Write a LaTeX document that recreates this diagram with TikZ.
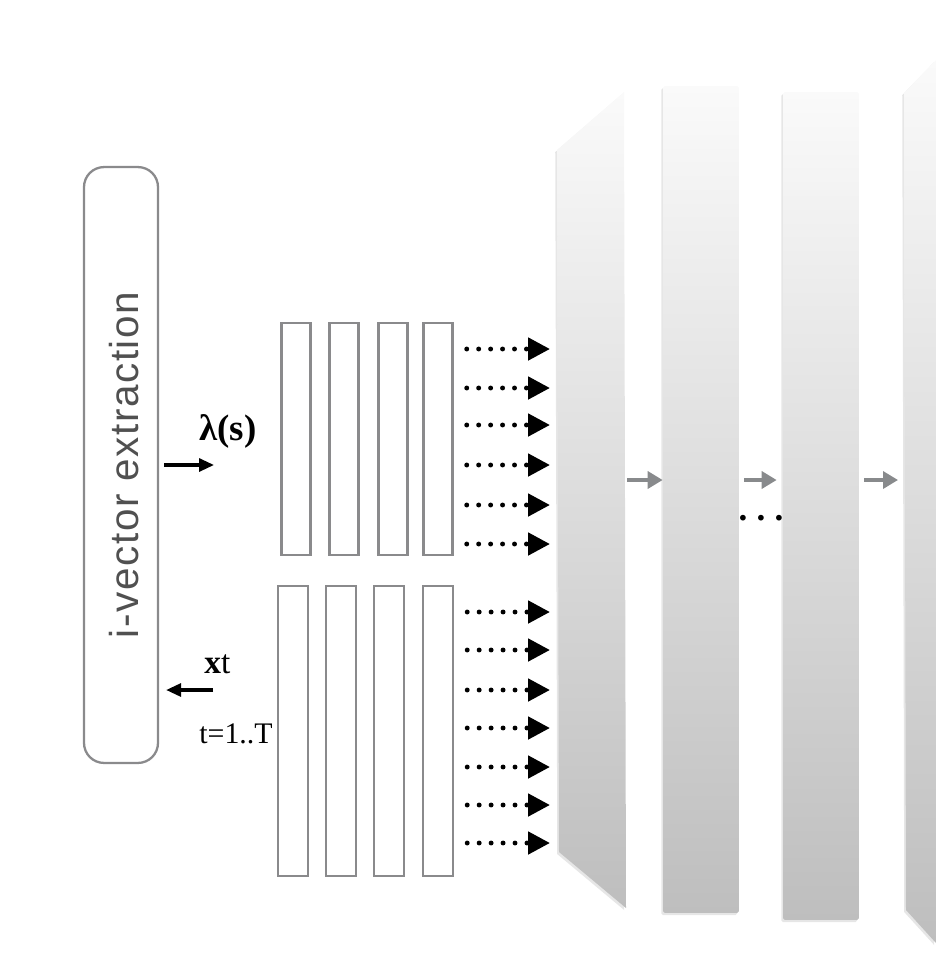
\documentclass[tikz,border=0pt]{standalone}
\usepackage{fontspec}
\setmainfont{Liberation Serif}
\newfontfamily\labelsans[LetterSpace=4]{Liberation Sans}
\usetikzlibrary{arrows.meta,positioning,calc,shadows}
\definecolor{boxgrey}{RGB}{138,138,140}
\definecolor{layertop}{RGB}{250,250,250}
\definecolor{layerbottom}{RGB}{190,190,190}
\definecolor{flowgrey}{RGB}{136,138,140}
\definecolor{textgrey}{RGB}{80,80,80}

\begin{document}
\begin{tikzpicture}[
    x=0.02cm, y=-0.02cm,
    framebar/.style={draw=boxgrey, line width=1.4pt, inner sep=0pt, minimum width=0.58cm},
    ivec/.style={draw=boxgrey, line width=1.3pt, rounded corners=0.4cm, inner sep=0pt,
        minimum width=1.48cm, minimum height=11.92cm},
    layer/.style={top color=layertop, bottom color=layerbottom, draw=none,
        drop shadow={shadow xshift=-1pt, shadow yshift=-1.2pt, opacity=0.2}},
    layerrect/.style={layer, inner sep=0pt, minimum width=1.52cm, rounded corners=1pt},
    dotarrow/.style={line width=2.8pt, line cap=round, dash pattern=on 0pt off 6.8pt,
        -{Triangle[length=0.44cm, width=0.44cm]}},
    flow/.style={flowgrey, line width=2pt, -{Triangle[length=0.3cm, width=0.34cm]}},
    feed/.style={black, line width=1.8pt, -{Triangle[length=0.3cm, width=0.26cm]}},
    tag/.style={inner sep=0pt},
]
    \useasboundingbox (0,0) rectangle (936,978);
    % i-vector block
    \node[ivec] (ivec) at (121,465) {};
    \node[rotate=90, textgrey, font=\labelsans\fontsize{23}{27}\selectfont] (ivectext) at (124,465) {i-vector extraction};
    % input frames
    \foreach \x [count=\i] in {296,344,393,438} {
        \node[framebar, minimum height=4.64cm] (u\i) at (\x,439) {};
    }
    \foreach \x [count=\i] in {293,341,389,438} {
        \node[framebar, minimum height=5.8cm, minimum width=0.6cm] (d\i) at (\x,731) {};
    }
    % network layers
    \shade[layer] (557,150) -- (624,92) -- (626,908) -- (559,852) -- cycle;
    \coordinate (l1w) at (557,480);
    \coordinate (l1e) at (627,480);
    \node[layerrect, minimum height=16.54cm] (l2) at (701,499.5) {};
    \node[layerrect, minimum height=16.56cm] (l3) at (821,506) {};
    \shade[layer] (904,93) -- (936,60) -- (936,943) -- (906,910) -- cycle;
    \coordinate (l4) at (904,480);
    % frames into first layer
    \foreach \y in {349,388,425,465,505,544} {
        \draw[dotarrow, shorten <=0.26cm, shorten >=0.14cm] (u4.east |- 0,\y) -- (l1w |- 0,\y);
    }
    \foreach \y in {612,650,690,728,767,805,843} {
        \draw[dotarrow, shorten <=0.26cm, shorten >=0.14cm] (d4.east |- 0,\y) -- (l1w |- 0,\y);
    }
    % between layers
    \draw[flow] (l1e) -- (l2.west |- l1e);
    \draw[flow, shorten <=0.1cm, shorten >=0.12cm] (l2.east |- l1e) -- (l3.west |- l1e);
    \draw[flow, shorten <=0.1cm, shorten >=0.12cm] (l3.east |- l1e) -- (l4);
    \node[tag, font=\bfseries\fontsize{20}{20}\selectfont] (gap) at (761,518) {.\hspace{5.2pt}.\hspace{5.2pt}.};
    % labels and feeds
    \node[tag, font=\bfseries\fontsize{21}{25}\selectfont] (lambda) at (228,431) {λ(s)};
    \node[tag, anchor=base west, font=\fontsize{19}{22}\selectfont] (xlab) at (204,673) {\textbf{x}t};
    \node[tag, anchor=base west, font=\fontsize{17}{20}\selectfont] (tlab) at (199,743) {t=1..T};
    \coordinate (lamin) at (214,465);
    \coordinate (xin) at (213,690);
    \draw[feed, shorten <=0.1cm] (ivec.east |- lamin) -- (lamin);
    \draw[feed, shorten >=0.14cm] (xin) -- (ivec.east |- xin);
\end{tikzpicture}
\end{document}
